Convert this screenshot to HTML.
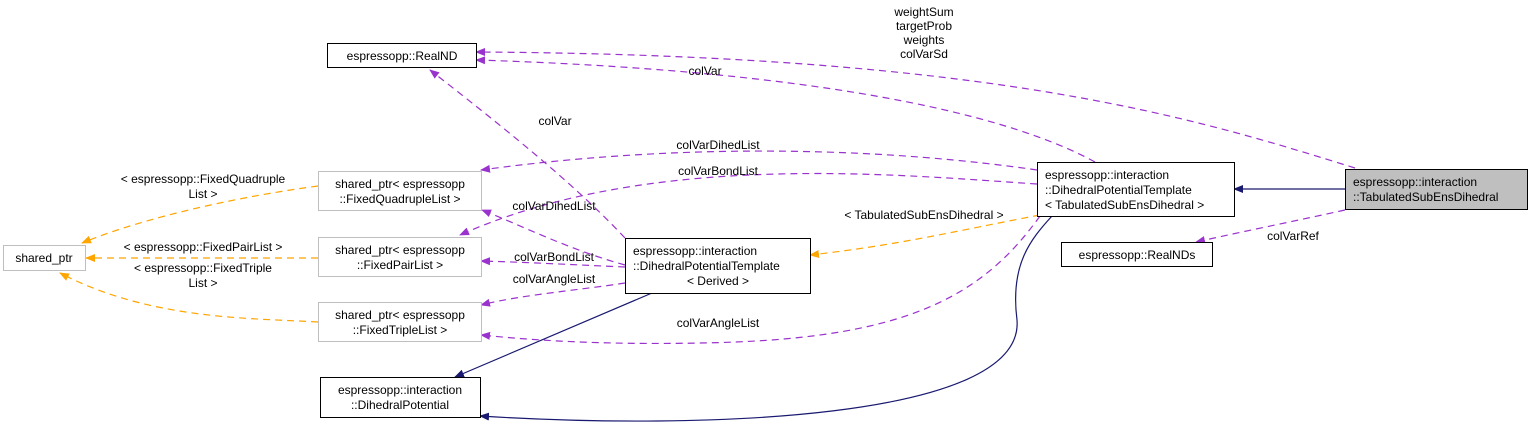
<!DOCTYPE html>
<html><head><meta charset="utf-8"><style>
body{margin:0;background:#fff}
text{font-family:"Liberation Sans",sans-serif;font-size:12px;fill:#000}
</style></head><body>
<svg width="1532" height="439" viewBox="0 0 1532 439" xmlns="http://www.w3.org/2000/svg">
<defs>
<marker id="p" markerWidth="10" markerHeight="10" refX="9" refY="5" orient="auto" markerUnits="userSpaceOnUse"><path d="M0,1 L10,5 L0,9 z" fill="#9a32cd"/></marker>
<marker id="o" markerWidth="10" markerHeight="10" refX="9" refY="5" orient="auto" markerUnits="userSpaceOnUse"><path d="M0,1 L10,5 L0,9 z" fill="#ffa500"/></marker>
<marker id="b" markerWidth="10" markerHeight="10" refX="9" refY="5" orient="auto" markerUnits="userSpaceOnUse"><path d="M0,1 L10,5 L0,9 z" fill="#191970"/></marker>
</defs>
<g fill="none" stroke-width="1.2">
<g stroke="#9a32cd" stroke-dasharray="7,5" marker-end="url(#p)">
<path d="M1355,168 C1200,120 1000,55 476,52"/>
<path d="M1095,162 C1000,110 800,70 476,60"/>
<path d="M1037,170 C900,150 700,140 481,170"/>
<path d="M1037,184 C900,175 650,150 460,235"/>
<path d="M625,265 C570,250 520,225 482,210"/>
<path d="M625,267 C580,265 520,262 481,261"/>
<path d="M625,283 C580,290 520,295 481,305"/>
<path d="M1040,216 C980,300 900,340 700,343 C600,345 530,340 481,335"/>
<path d="M625,238 C580,190 520,140 430,70"/>
<path d="M1345,210 C1300,220 1250,230 1196,242"/>
</g>
<g stroke="#ffa500" stroke-dasharray="7,5" marker-end="url(#o)">
<path d="M318,186 C250,195 150,215 82,243"/>
<path d="M318,258 L86,258"/>
<path d="M318,322 C250,318 150,320 60,273"/>
<path d="M1040,215 C960,230 900,245 810,255"/>
</g>
<g stroke="#191970" marker-end="url(#b)">
<path d="M1345,189 L1234,189"/>
<path d="M652,293 L455,377"/>
<path d="M1052,216 C1030,240 1010,265 1017,320 C1025,420 700,430 480,416"/>
</g>
</g>
<g stroke-width="1">
<rect x="327.5" y="43.5" width="149" height="24" fill="#fff" stroke="#000"/>
<rect x="3.5" y="245.5" width="82" height="25" fill="#fff" stroke="#bfbfbf"/>
<rect x="318.5" y="171.5" width="163" height="39" fill="#fff" stroke="#bfbfbf"/>
<rect x="318.5" y="237.5" width="163" height="39" fill="#fff" stroke="#bfbfbf"/>
<rect x="318.5" y="302.5" width="163" height="39" fill="#fff" stroke="#bfbfbf"/>
<rect x="625.5" y="238.5" width="185" height="55" fill="#fff" stroke="#000"/>
<rect x="320.5" y="377.5" width="160" height="40" fill="#fff" stroke="#000"/>
<rect x="1037.5" y="162.5" width="197" height="54" fill="#fff" stroke="#000"/>
<rect x="1061.5" y="242.5" width="151" height="24" fill="#fff" stroke="#000"/>
<rect x="1345.5" y="169.5" width="182" height="40" fill="#bfbfbf" stroke="#000"/>
</g>
<text x="402" y="60" text-anchor="middle">espressopp::RealND</text>
<text x="44" y="262" text-anchor="middle">shared_ptr</text>
<text x="400" y="188" text-anchor="middle">shared_ptr&lt; espressopp</text>
<text x="400" y="203" text-anchor="middle">::FixedQuadrupleList &gt;</text>
<text x="400" y="254" text-anchor="middle">shared_ptr&lt; espressopp</text>
<text x="400" y="269" text-anchor="middle">::FixedPairList &gt;</text>
<text x="400" y="319" text-anchor="middle">shared_ptr&lt; espressopp</text>
<text x="400" y="334" text-anchor="middle">::FixedTripleList &gt;</text>
<text x="633" y="255">espressopp::interaction</text>
<text x="633" y="270">::DihedralPotentialTemplate</text>
<text x="718" y="285" text-anchor="middle">&lt; Derived &gt;</text>
<text x="400" y="394" text-anchor="middle">espressopp::interaction</text>
<text x="400" y="409" text-anchor="middle">::DihedralPotential</text>
<text x="1045" y="179">espressopp::interaction</text>
<text x="1045" y="194">::DihedralPotentialTemplate</text>
<text x="1045" y="209">&lt; TabulatedSubEnsDihedral &gt;</text>
<text x="1137" y="259" text-anchor="middle">espressopp::RealNDs</text>
<text x="1353" y="186">espressopp::interaction</text>
<text x="1353" y="201">::TabulatedSubEnsDihedral</text>
<g text-anchor="middle">
<text x="924" y="16">weightSum</text>
<text x="924" y="30">targetProb</text>
<text x="924" y="44">weights</text>
<text x="924" y="58">colVarSd</text>
<text x="705" y="75">colVar</text>
<text x="555" y="125">colVar</text>
<text x="718" y="149">colVarDihedList</text>
<text x="718" y="175">colVarBondList</text>
<text x="554" y="210">colVarDihedList</text>
<text x="554" y="261">colVarBondList</text>
<text x="554" y="283">colVarAngleList</text>
<text x="718" y="327">colVarAngleList</text>
<text x="924" y="219">&lt; TabulatedSubEnsDihedral &gt;</text>
<text x="1293" y="240">colVarRef</text>
<text x="203" y="183">&lt; espressopp::FixedQuadruple</text>
<text x="203" y="198">List &gt;</text>
<text x="203" y="251">&lt; espressopp::FixedPairList &gt;</text>
<text x="203" y="272">&lt; espressopp::FixedTriple</text>
<text x="203" y="287">List &gt;</text>
</g>
</svg>
</body></html>
